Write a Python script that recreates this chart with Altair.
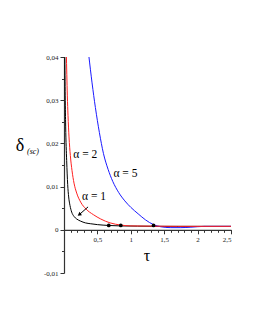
import altair as alt
import pandas as pd

# Curve samples
tau_a1 = [0.012, 0.018, 0.025, 0.04, 0.055, 0.07, 0.09, 0.115, 0.15, 0.19, 0.25, 0.32, 0.4, 0.5, 0.67, 0.85, 1.1, 1.5, 2.0, 2.5]
delta_a1 = [0.041, 0.031, 0.024, 0.016, 0.0105, 0.0076, 0.0056, 0.0041, 0.0031, 0.0025, 0.0020, 0.0016, 0.0014, 0.0012, 0.0010, 0.0009, 0.00085, 0.0008, 0.0008, 0.0008]

tau_a2 = [0.035, 0.042, 0.05, 0.06, 0.075, 0.095, 0.12, 0.15, 0.19, 0.25, 0.33, 0.44, 0.55, 0.69, 0.85, 1.0, 1.3, 1.7, 2.5]
delta_a2 = [0.041, 0.036, 0.031, 0.0265, 0.0215, 0.0172, 0.0137, 0.0108, 0.0085, 0.0064, 0.0048, 0.0035, 0.0025, 0.0016, 0.0011, 0.0009, 0.00085, 0.0008, 0.0008]

tau_a5 = [0.37, 0.42, 0.47, 0.53, 0.59, 0.66, 0.73, 0.82, 0.91, 1.0, 1.11, 1.22, 1.34, 1.45, 1.6, 1.75, 1.9, 2.1, 2.5]
delta_a5 = [0.0405, 0.0340, 0.0283, 0.0225, 0.0177, 0.0140, 0.0112, 0.0086, 0.0067, 0.0052, 0.0037, 0.0023, 0.0012, 0.0007, 0.0005, 0.0005, 0.0006, 0.0008, 0.0008]

dot_tau = [0.67, 0.85, 1.34]
dot_delta = [0.0010, 0.0010, 0.0010]

label_text = ["α = 2", "α = 5", "α = 1"]
label_tau = [0.14, 0.74, 0.27]
label_delta = [0.0174, 0.0130, 0.0077]

arrow_tau = [0.36, 0.235]
arrow_delta = [0.0053, 0.0036]

x_major = [0.5, 1.0, 1.5, 2.0, 2.5]
x_major_labels = ["0,5", "1", "1,5", "2", "2,5"]
x_minor = [round(0.1 * i, 1) for i in range(1, 26)]
y_major = [-0.01, 0.0, 0.01, 0.02, 0.03, 0.04]
y_major_labels = ["-0,01", "0", "0,01", "0,02", "0,03", "0,04"]
y_minor = [-0.005, 0.005, 0.015, 0.025, 0.035]

W, H = 167, 216
FONT = "Liberation Serif"

xs = alt.Scale(domain=[0, 2.5], nice=False, zero=False)
ys = alt.Scale(domain=[-0.01, 0.04], nice=False, zero=False)
X_OFF = -(H * 0.01 / 0.05)

def curve_df(t, d):
    return pd.DataFrame({"tau": t, "delta": d})

def label_expr(vals, labs):
    parts = [f"abs(datum.value-({v}))<1e-6 ? '{l}'" for v, l in zip(vals, labs)]
    return " : ".join(parts) + " : ''"

common = dict(grid=False, labelOverlap=False, domainColor="#333333", domainWidth=1.2,
              tickColor="#333333", labelFont=FONT, labelFontSize=7, labelColor="#222222", title=None)

x_axis_major = alt.Axis(values=x_major, orient="bottom", offset=X_OFF, tickSize=4, labelPadding=2,
                        labelExpr=label_expr(x_major, x_major_labels), **common)
y_axis_major = alt.Axis(values=y_major, orient="left", tickSize=4, labelPadding=2,
                        labelExpr=label_expr(y_major, y_major_labels), **common)
x_axis_minor = alt.Axis(values=x_minor, orient="bottom", offset=X_OFF, tickSize=2.5, labels=False, domain=False,
                        grid=False, tickColor="#333333", title=None)
y_axis_minor = alt.Axis(values=y_minor, orient="left", tickSize=2.5, labels=False, domain=False,
                        grid=False, tickColor="#333333", title=None)

axes_major = alt.Chart(curve_df(tau_a1, delta_a1)).mark_line(opacity=0).encode(
    x=alt.X("tau:Q", scale=xs, axis=x_axis_major), y=alt.Y("delta:Q", scale=ys, axis=y_axis_major))
axes_minor = alt.Chart(curve_df(tau_a1, delta_a1)).mark_line(opacity=0).encode(
    x=alt.X("tau:Q", scale=xs, axis=x_axis_minor), y=alt.Y("delta:Q", scale=ys, axis=y_axis_minor))

def line(t, d, color):
    return alt.Chart(curve_df(t, d)).mark_line(color=color, strokeWidth=1, interpolate="monotone", clip=True).encode(
        x=alt.X("tau:Q", scale=xs, axis=None), y=alt.Y("delta:Q", scale=ys, axis=None))

black = line(tau_a1, delta_a1, "black")
blue = line(tau_a5, delta_a5, "#1a1aff")
red = line(tau_a2, delta_a2, "#ff2020")

dots = alt.Chart(curve_df(dot_tau, dot_delta)).mark_circle(color="black", size=14, opacity=1).encode(
    x=alt.X("tau:Q", scale=xs, axis=None), y=alt.Y("delta:Q", scale=ys, axis=None))

labels = alt.Chart(pd.DataFrame({"tau": label_tau, "delta": label_delta, "t": label_text})).mark_text(
    font=FONT, fontSize=11.5, align="left", baseline="middle", color="black").encode(
    x=alt.X("tau:Q", scale=xs, axis=None), y=alt.Y("delta:Q", scale=ys, axis=None), text="t:N")

arrow_shaft = alt.Chart(curve_df(arrow_tau, arrow_delta)).mark_line(color="black", strokeWidth=1).encode(
    x=alt.X("tau:Q", scale=xs, axis=None), y=alt.Y("delta:Q", scale=ys, axis=None))
arrow_head = alt.Chart(curve_df(arrow_tau[1:], arrow_delta[1:])).mark_point(
    shape="triangle", angle=235, filled=True, color="black", size=18, opacity=1).encode(
    x=alt.X("tau:Q", scale=xs, axis=None), y=alt.Y("delta:Q", scale=ys, axis=None))

ytitle = alt.Chart(pd.DataFrame({"t": ["δ"]})).mark_text(font=FONT, fontSize=18, align="center", baseline="middle").encode(
    x=alt.value(-44), y=alt.value(89), text="t:N")
ysub = alt.Chart(pd.DataFrame({"t": ["(sc)"]})).mark_text(font=FONT, fontSize=8, fontStyle="italic", align="left", baseline="middle").encode(
    x=alt.value(-37), y=alt.value(95), text="t:N")
xtitle = alt.Chart(pd.DataFrame({"t": ["τ"]})).mark_text(font=FONT, fontSize=16, align="center", baseline="middle").encode(
    x=alt.value(83), y=alt.value(199), text="t:N")

chart = alt.layer(axes_major, axes_minor, black, blue, red, dots, arrow_shaft, arrow_head, labels, ytitle, ysub, xtitle).resolve_axis(
    x="independent", y="independent"
).properties(
    width=W, height=H,
    background="white",
    autosize=alt.AutoSizeParams(type="none"),
    padding={"left": 56, "top": 49, "right": 8, "bottom": 20},
).configure_view(stroke=None, strokeWidth=0)

chart.save("out.html", embed_options={"renderer": "svg", "actions": False})
